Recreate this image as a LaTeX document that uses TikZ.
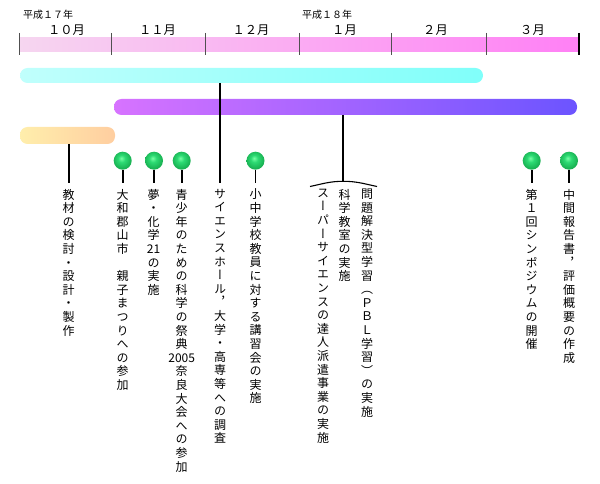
\documentclass[tikz,border=0pt]{standalone}
\usepackage{fontspec}
\setmainfont{Noto Sans CJK JP}
\newfontfamily\jpv[RawFeature=+vert]{Noto Sans CJK JP}
\definecolor{gl}{RGB}{120,255,165}
\definecolor{gm}{RGB}{45,218,115}
\definecolor{gd}{RGB}{18,165,72}
\pgfdeclareradialshading{gball}{\pgfpoint{-4bp}{7bp}}{color(0bp)=(gl); color(10bp)=(gm); color(30bp)=(gd); color(50bp)=(gd)}
\makeatletter
\newcommand\vstack[1]{\vbox{\jpv\fontsize{12}{13.6}\selectfont\baselineskip=13.6pt\lineskiplimit=-\maxdimen\@tfor\vch:=#1\do{\hbox to 12pt{\hss\vch\hss}}}}
\makeatother
\tikzset{
  vtxt/.style={anchor=north, inner sep=0pt, outer sep=0pt},
  gballnode/.style={circle, minimum size=18pt, inner sep=0pt, shading=gball},
  stem/.style={line width=1.6pt, black},
  conn/.style={line width=1.8pt, black},
  tickmark/.style={line width=0.9pt, draw={rgb,255:red,80;green,80;blue,80}},
  mon/.style={inner sep=0pt, font=\fontsize{12.3}{14}\selectfont},
  yr/.style={inner sep=0pt, anchor=west, font=\fontsize{10}{12}\selectfont},
  bar/.style={inner sep=0pt, outer sep=0pt, rounded corners=7.5pt}
}
\begin{document}
\begin{tikzpicture}[x=1pt,y=-1pt]
\useasboundingbox (0,0) rectangle (600,484);
% top timeline bar
\node[inner sep=0pt, outer sep=0pt, minimum width=560pt, minimum height=14pt,
  left color={rgb,255:red,246;green,214;blue,240}, right color={rgb,255:red,255;green,128;blue,245}] (tl) at (299,45) {};
\foreach \x in {19,111.3,205,299.7,391.7,486}{\draw[tickmark] (\x,33) -- (\x,55);}
\draw[line width=1.3pt, black] (579,33) -- (579,55);
% year labels
\node[yr] (y17) at (23,15) {平成１７年};
\node[yr] (y18) at (302,15) {平成１８年};
% month labels
\node[mon] (m10) at (66.5,30.5) {１０月};
\node[mon] (m11) at (157.5,30.5) {１１月};
\node[mon] (m12) at (251,30.5) {１２月};
\node[mon] (m1) at (344.5,30.5) {１月};
\node[mon] (m2) at (435.5,30.5) {２月};
\node[mon] (m3) at (532.5,30.5) {３月};
% period bars
\node[bar, minimum width=463pt, minimum height=15pt,
  left color={rgb,255:red,192;green,255;blue,252}, right color={rgb,255:red,128;green,255;blue,250}] (cyan) at (251.5,75.5) {};
\node[bar, minimum width=463pt, minimum height=16pt,
  left color={rgb,255:red,215;green,115;blue,255}, right color={rgb,255:red,108;green,84;blue,255}] (purple) at (345.5,107) {};
\node[bar, minimum width=95pt, minimum height=17pt,
  left color={rgb,255:red,255;green,238;blue,172}, right color={rgb,255:red,255;green,206;blue,160}] (orange) at (67.5,135.5) {};
% green balls
\node[gballnode] (b2) at (122.7,160.7) {};
\node[gballnode] (b3) at (154,160.7) {};
\node[gballnode] (b4) at (181.7,160.7) {};
\node[gballnode] (b6) at (255.5,160.7) {};
\node[gballnode] (b10) at (531.7,160.7) {};
\node[gballnode] (b11) at (569,160.7) {};
% end points of connectors
\coordinate (e1) at (69,183);
\coordinate (e2) at (122.7,183);
\coordinate (e3) at (154,183);
\coordinate (e4) at (181.7,183);
\coordinate (e5) at (220,183);
\coordinate (e6) at (255.5,183);
\coordinate (br) at (343.3,181.3);
\coordinate (brl) at (310,186.5);
\coordinate (brr) at (377,186.5);
\coordinate (e10) at (531.7,183);
\coordinate (e11) at (569,183);
% connectors
\draw[conn] (orange.south -| e1) -- (e1);
\draw[conn] (cyan.south -| e5) -- (e5);
\draw[conn] (purple.south -| br) -- (br);
\draw[line width=1.1pt] (brl) to[out=12,in=180] (br) to[out=0,in=168] (brr);
\draw[stem] (b2.south) -- (e2);
\draw[stem] (b3.south) -- (e3);
\draw[stem] (b4.south) -- (e4);
\draw[stem] (b6.south) -- (e6);
\draw[stem] (b10.south) -- (e10);
\draw[stem] (b11.south) -- (e11);
% vertical texts
\node[vtxt] (t1) at (68.5,189) {\vstack{教材の検討・設計・製作}};
\node[vtxt] (t2) at (122.7,189) {\vstack{大和郡山市　親子まつりへの参加}};
\node[vtxt] (t3) at (153.5,189) {\vstack{夢・化学{21}の実施}};
\node[vtxt] (t4) at (181.7,189) {\vstack{青少年のための科学の祭典{2005}奈良大会への参加}};
\node[vtxt] (t5) at (220,189) {\vstack{サイエンスホール，大学・高専等への調査}};
\node[vtxt] (t6) at (255.5,189) {\vstack{小中学校教員に対する講習会の実施}};
\node[vtxt] (t7) at (323,189) {\vstack{スーパーサイエンスの達人派遣事業の実施}};
\node[vtxt] (t8) at (344.5,189) {\vstack{科学教室の実施}};
\node[vtxt] (t9) at (367,189) {\vstack{問題解決型学習（ＰＢＬ学習）の実施}};
\node[vtxt] (t10) at (531.7,189) {\vstack{第１回シンポジウムの開催}};
\node[vtxt] (t11) at (569,189) {\vstack{中間報告書，評価概要の作成}};
\end{tikzpicture}
\end{document}
